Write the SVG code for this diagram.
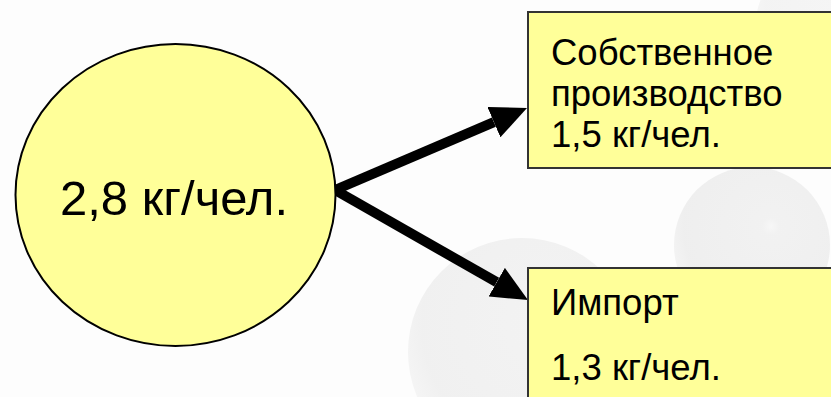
<svg xmlns="http://www.w3.org/2000/svg" width="831" height="397" viewBox="0 0 831 397">
  <defs>
    <radialGradient id="sph" cx="0.62" cy="0.38" r="0.7">
      <stop offset="0" stop-color="#f6f6f6"/>
      <stop offset="0.08" stop-color="#f0f0f0"/>
      <stop offset="0.8" stop-color="#ededed"/>
      <stop offset="1" stop-color="#f5f5f5"/>
    </radialGradient>
    <marker id="head" markerUnits="strokeWidth" markerWidth="3.6" markerHeight="3.3" refX="0" refY="1.65" orient="auto" viewBox="0 0 3.6 3.3">
      <path d="M0,0 L3.6,1.65 L0,3.3 z" fill="#000"/>
    </marker>
    <style>
      .node { fill: #ffff99; }
      .box { stroke: #333333; stroke-width: 2; }
      .circ { stroke: #000000; stroke-width: 2; }
      .t { font-family: "Liberation Sans", Arial, sans-serif; fill: #000; }
      .big { font-size: 49px; }
      .lbl { font-size: 36.5px; }
      .arrow { stroke: #000; stroke-width: 10; fill: none; marker-end: url(#head); }
      .bg { fill: url(#sph); }
    </style>
  </defs>
  <rect x="0" y="0" width="831" height="397" fill="#fdfdfd"/>
  <g id="background">
    <circle class="bg" cx="840" cy="30" r="85" opacity="0.6"/>
    <circle class="bg" cx="700" cy="390" r="110" opacity="0.5"/>
    <circle class="bg" cx="752" cy="245" r="78" opacity="0.9"/>
    <circle class="bg" cx="522" cy="352" r="114" opacity="0.8"/>
  </g>
  <g id="connectors">
    <line class="arrow" x1="335" y1="190" x2="493.9" y2="122.1"/>
    <line class="arrow" x1="335" y1="190" x2="496.7" y2="282.2"/>
  </g>
  <g id="node-total">
    <ellipse class="node circ" cx="175.5" cy="195" rx="160" ry="151"/>
    <text class="t big" x="174" y="215" text-anchor="middle">2,8 кг/чел.</text>
  </g>
  <g id="node-own">
    <rect class="node box" x="528" y="12" width="320" height="156"/>
    <text class="t lbl" x="551" y="65">Собственное</text>
    <text class="t lbl" x="551" y="106">производство</text>
    <text class="t lbl" x="551" y="147">1,5 кг/чел.</text>
  </g>
  <g id="node-import">
    <rect class="node box" x="528" y="268" width="320" height="150"/>
    <text class="t lbl" x="551" y="315">Импорт</text>
    <text class="t lbl" x="551" y="380">1,3 кг/чел.</text>
  </g>
</svg>
